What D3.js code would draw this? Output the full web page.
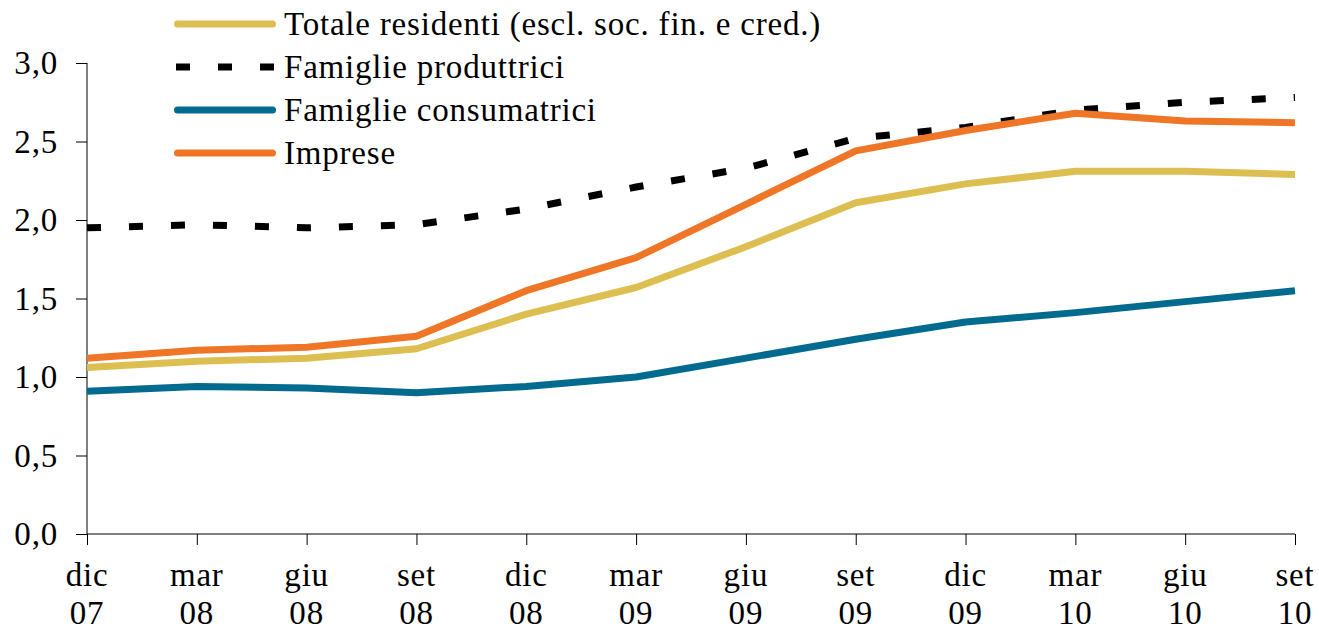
<!DOCTYPE html>
<html>
<head>
<meta charset="utf-8">
<script src="https://cdn.jsdelivr.net/npm/d3@7"></script>
<style>
  body { margin: 0; background: #fff; }
  svg text { font-family: "Liberation Serif", "Times New Roman", serif; fill: #000; letter-spacing: 0.8px; }
</style>
</head>
<body>
<div id="chart"></div>
<script>
// dati ----------------------------------------------------------------------------------------
const mesi = ['dic', 'mar', 'giu', 'set', 'dic', 'mar', 'giu', 'set', 'dic', 'mar', 'giu', 'set'];
const anni = ['07', '08', '08', '08', '08', '09', '09', '09', '09', '10', '10', '10'];
const totaleResidenti = [1.06, 1.10, 1.12, 1.18, 1.40, 1.57, 1.83, 2.11, 2.23, 2.31, 2.31, 2.29];
const famiglieProduttrici = [1.95, 1.97, 1.95, 1.97, 2.07, 2.21, 2.33, 2.52, 2.59, 2.70, 2.75, 2.78];
const famiglieConsumatrici = [0.91, 0.94, 0.93, 0.90, 0.94, 1.00, 1.12, 1.24, 1.35, 1.41, 1.48, 1.55];
const imprese = [1.12, 1.17, 1.19, 1.26, 1.55, 1.76, 2.10, 2.44, 2.57, 2.68, 2.63, 2.62];
const yTicks = [0, 0.5, 1, 1.5, 2, 2.5, 3];

const serie = [
  { nome: 'Totale residenti (escl. soc. fin. e cred.)', valori: totaleResidenti, colore: '#ddbe50', dash: null },
  { nome: 'Famiglie produttrici', valori: famiglieProduttrici, colore: '#000000', dash: '14,28' },
  { nome: 'Famiglie consumatrici', valori: famiglieConsumatrici, colore: '#006b8f', dash: null },
  { nome: 'Imprese', valori: imprese, colore: '#ef7527', dash: null }
];

// dimensioni ----------------------------------------------------------------------------------
const width = 1319;
const height = 631;
const m = { left: 87, right: 1295, top: 63, bottom: 534 };
const fontSize = '33px';

const svg = d3.select('#chart').append('svg')
  .attr('width', width)
  .attr('height', height);

const x = d3.scalePoint()
  .domain(d3.range(mesi.length))
  .range([m.left, m.right]);

const y = d3.scaleLinear()
  .domain([0, 3])
  .range([m.bottom, m.top]);

// assi ----------------------------------------------------------------------------------------
const fmt = d => d3.format('.1f')(d).replace('.', ',');

const yAxis = svg.append('g')
  .attr('transform', 'translate(' + m.left + ',0)')
  .call(d3.axisLeft(y).tickValues(yTicks).tickSize(11).tickPadding(18).tickFormat(fmt));
yAxis.select('.domain').attr('stroke', '#000').attr('stroke-width', 1).attr('d', 'M0,' + m.bottom + 'V' + m.top + 'h-0');
yAxis.selectAll('.tick line').attr('stroke', '#000');
yAxis.selectAll('.tick text').attr('font-size', fontSize).attr('font-family', 'Liberation Serif');

const xAxis = svg.append('g')
  .attr('transform', 'translate(0,' + m.bottom + ')')
  .call(d3.axisBottom(x).tickSize(11).tickFormat(''));
xAxis.select('.domain').attr('stroke', '#000').attr('stroke-width', 1).attr('d', 'M' + m.left + ',0H' + m.right);
xAxis.selectAll('.tick line').attr('stroke', '#000');

const xLab = svg.append('g').selectAll('text')
  .data(mesi)
  .enter().append('text')
  .attr('text-anchor', 'middle')
  .attr('font-size', fontSize);
xLab.append('tspan').attr('x', (d, i) => x(i)).attr('y', 586).text(d => d);
xLab.append('tspan').attr('x', (d, i) => x(i)).attr('y', 624).text((d, i) => anni[i]);

// linee ---------------------------------------------------------------------------------------
const line = d3.line()
  .x((d, i) => x(i))
  .y(d => y(d));

svg.append('g').selectAll('path')
  .data(serie)
  .enter().append('path')
  .attr('d', d => line(d.valori))
  .attr('fill', 'none')
  .attr('stroke', d => d.colore)
  .attr('stroke-width', 7)
  .attr('stroke-linejoin', 'round')
  .attr('stroke-dasharray', d => d.dash);

// legenda -------------------------------------------------------------------------------------
const leg = svg.append('g').selectAll('g')
  .data(serie)
  .enter().append('g')
  .attr('transform', (d, i) => 'translate(174,' + (24 + 43 * i) + ')');
leg.append('line')
  .attr('x1', d => d.dash ? 2 : 3.5)
  .attr('x2', d => d.dash ? 101 : 98.5)
  .attr('stroke', d => d.colore)
  .attr('stroke-width', 7)
  .attr('stroke-linecap', d => d.dash ? 'butt' : 'round')
  .attr('stroke-dasharray', d => d.dash);
leg.append('text')
  .attr('x', 110)
  .attr('y', 11)
  .attr('font-size', fontSize)
  .text(d => d.nome);
</script>
</body>
</html>
